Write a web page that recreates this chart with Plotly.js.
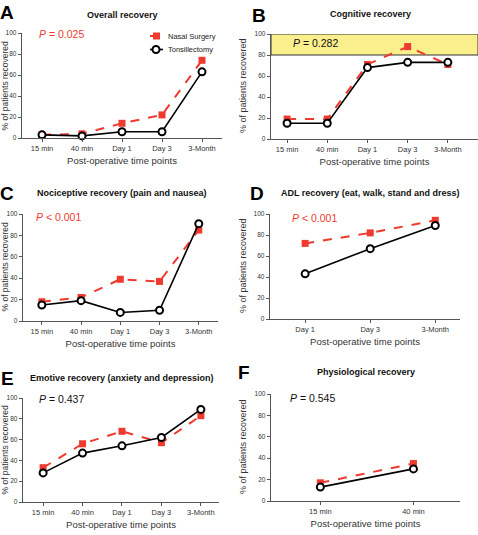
<!DOCTYPE html>
<html><head><meta charset="utf-8">
<script src="https://cdn.plot.ly/plotly-3.0.1.min.js"></script>
<style>html,body{margin:0;padding:0;background:#fff}#chart{width:478px;height:535px}</style>
</head><body><div id="chart"></div>
<script>
// ---- data ----
const timepoints5 = ['15 min', '40 min', 'Day 1', 'Day 3', '3-Month'];
const timepointsADL = ['Day 1', 'Day 3', '3-Month'];
const timepointsPhys = ['15 min', '40 min'];
const seriesNames = ['Nasal Surgery', 'Tonsillectomy'];
const panelTitles = ['Overall recovery', 'Cognitive recovery', 'Nociceptive recovery (pain and nausea)',
  'ADL recovery (eat, walk, stand and dress)', 'Emotive recovery (anxiety and depression)', 'Physiological recovery'];
const panelLetters = ['A', 'B', 'C', 'D', 'E', 'F'];
const pValues = ['<i>P</i> = 0.025', '<i>P</i> = 0.282', '<i>P</i> < 0.001', '<i>P</i> < 0.001', '<i>P</i> = 0.437', '<i>P</i> = 0.545'];
const yTicks = [0, 20, 40, 60, 80, 100];
const xTitle = 'Post-operative time points';
const yTitle = '% of patients recovered';

const overallNasal = [3, 4, 14, 22, 74];
const overallTonsil = [3, 2, 6, 6, 63];
const cognitiveNasal = [19, 19, 71, 88, 71];
const cognitiveTonsil = [15, 15, 68, 73, 73];
const nociNasal = [18, 22, 39, 37, 85];
const nociTonsil = [15, 19, 8, 10, 91];
const adlNasal = [72, 82, 94];
const adlTonsil = [43, 67, 89];
const emotiveNasal = [33, 56, 68, 57, 83];
const emotiveTonsil = [28, 47, 54, 62, 89];
const physioNasal = [17, 35];
const physioTonsil = [13, 30];
const cognitiveBand = [80, 100];

// ---- layout helpers (pixel geometry) ----
const W = 478, H = 535;
const FONT = 'Liberation Sans, Arial, Helvetica, sans-serif';
const RED = '#ee3a2f';
const px = v => v / W;
const py = v => (H - v) / H;

const panels = [
  {cats: timepoints5, nasal: overallNasal, tonsil: overallTonsil, xd: [22, 222], yd: [138, 33], xr: [-0.5, 4.5],
   title: [123, 15], letter: [7, 13], p: [37, 34], pColor: RED, yt: [4.5, 86], ytSize: 8.5},
  {cats: timepoints5, nasal: cognitiveNasal, tonsil: cognitiveTonsil, xd: [271, 478], yd: [139, 34], xr: [-0.4, 4.75],
   title: [370, 14], letter: [259, 15], p: [291, 43], pColor: '#111', yt: [243, 86], ytSize: 9},
  {cats: timepoints5, nasal: nociNasal, tonsil: nociTonsil, xd: [23, 218], yd: [321, 214], xr: [-0.48, 4.49],
   title: [122, 193], letter: [7, 193], p: [34, 217], pColor: RED, yt: [4.5, 267], ytSize: 8.5},
  {cats: timepointsADL, nasal: adlNasal, tonsil: adlTonsil, xd: [270, 460], yd: [319, 214], xr: [-0.54, 2.38],
   title: [370, 193], letter: [257, 193], p: [290, 218], pColor: RED, yt: [243, 266], ytSize: 9},
  {cats: timepoints5, nasal: emotiveNasal, tonsil: emotiveTonsil, xd: [23, 219], yd: [502, 398], xr: [-0.51, 4.46],
   title: [122, 378], letter: [7, 378], p: [37, 399], pColor: '#111', yt: [4.5, 450], ytSize: 8.5},
  {cats: timepointsPhys, nasal: physioNasal, tonsil: physioTonsil, xd: [271, 460], yd: [501, 394], xr: [-0.53, 1.5],
   title: [366, 372], letter: [244, 372], p: [288, 398], pColor: '#111', yt: [243, 447], ytSize: 9}
];

const data = [];
const layout = {
  width: W, height: H, margin: {l: 0, r: 0, t: 0, b: 0},
  paper_bgcolor: '#fff', plot_bgcolor: 'rgba(0,0,0,0)',
  font: {family: FONT, color: '#222'},
  showlegend: false,
  annotations: [], shapes: []
};

panels.forEach((p, i) => {
  const k = i === 0 ? '' : String(i + 1);
  const xa = 'x' + k, ya = 'y' + k;
  data.push({
    x: p.cats, y: p.nasal, xaxis: xa, yaxis: ya, type: 'scatter', mode: 'lines+markers',
    name: seriesNames[0], cliponaxis: false,
    line: {color: RED, width: 2, dash: 'dash'},
    marker: {symbol: 'square', size: 7, color: RED}
  });
  data.push({
    x: p.cats, y: p.tonsil, xaxis: xa, yaxis: ya, type: 'scatter', mode: 'lines+markers',
    name: seriesNames[1], cliponaxis: false,
    line: {color: '#000', width: 1.6},
    marker: {symbol: 'circle', size: 7, color: '#fff', line: {color: '#000', width: 2}}
  });
  layout['xaxis' + k] = {
    domain: [px(p.xd[0]), px(p.xd[1])], anchor: ya, type: 'category', range: p.xr,
    showline: true, linecolor: '#555', linewidth: 1.3, ticks: 'outside', ticklen: 3, tickcolor: '#555',
    showgrid: false, zeroline: false, fixedrange: true,
    tickfont: {size: 7.5, color: '#333', family: FONT},
    title: {text: xTitle, font: {size: 9.5, color: '#333', family: FONT}, standoff: 5}
  };
  layout['yaxis' + k] = {
    domain: [py(p.yd[0]), py(p.yd[1])], anchor: xa, range: [0, 100],
    tickvals: yTicks, showline: true, linecolor: '#555', linewidth: 1.3, ticks: 'outside', ticklen: 3,
    tickcolor: '#555', showgrid: false, zeroline: false, fixedrange: true,
    tickfont: {size: 6.5, color: '#333', family: FONT}
  };
  layout.annotations.push(
    {text: '<b>' + panelTitles[i] + '</b>', xref: 'paper', yref: 'paper', x: px(p.title[0]), y: py(p.title[1]),
     xanchor: 'center', yanchor: 'middle', showarrow: false, font: {size: 9, color: '#111', family: FONT}},
    {text: '<b>' + panelLetters[i] + '</b>', xref: 'paper', yref: 'paper', x: px(p.letter[0]), y: py(p.letter[1]),
     xanchor: 'center', yanchor: 'middle', showarrow: false, font: {size: 19, color: '#000', family: FONT}},
    {text: pValues[i], xref: 'paper', yref: 'paper', x: px(p.p[0]), y: py(p.p[1]),
     xanchor: 'left', yanchor: 'middle', showarrow: false, font: {size: 10.5, color: p.pColor, family: FONT}},
    {text: yTitle, xref: 'paper', yref: 'paper', x: px(p.yt[0]), y: py(p.yt[1]), textangle: -90,
     xanchor: 'center', yanchor: 'middle', showarrow: false, font: {size: p.ytSize, color: '#333', family: FONT}}
  );
});

// yellow significance band in panel B
layout.shapes.push({
  type: 'rect', xref: 'x2 domain', yref: 'y2', x0: 0, x1: 1, y0: cognitiveBand[0], y1: cognitiveBand[1],
  fillcolor: '#f9ef8c', line: {color: '#333', width: 1}, layer: 'below'
});

// compact legend (panel A), built as in the original figure
const legendRows = [
  {name: seriesNames[0], y: 36, color: RED, dash: 'dash', width: 2, symbol: 'rect'},
  {name: seriesNames[1], y: 49.5, color: '#000', dash: 'solid', width: 1.6, symbol: 'circle'}
];
legendRows.forEach(r => {
  layout.shapes.push({type: 'line', xref: 'paper', yref: 'paper', x0: px(150), x1: px(163), y0: py(r.y), y1: py(r.y),
    line: {color: r.color, width: r.width, dash: r.dash}});
  if (r.symbol === 'rect') {
    layout.shapes.push({type: 'rect', xref: 'paper', yref: 'paper', x0: px(153), x1: px(160), y0: py(r.y + 3.5), y1: py(r.y - 3.5),
      fillcolor: RED, line: {width: 0}});
  } else {
    layout.shapes.push({type: 'circle', xref: 'paper', yref: 'paper', x0: px(152.5), x1: px(159.5), y0: py(r.y + 3.5), y1: py(r.y - 3.5),
      fillcolor: '#fff', line: {color: '#000', width: 2}});
  }
  layout.annotations.push({text: r.name, xref: 'paper', yref: 'paper', x: px(166), y: py(r.y), xanchor: 'left', yanchor: 'middle',
    showarrow: false, font: {size: 7.5, color: '#222', family: FONT}});
});

Plotly.newPlot('chart', data, layout, {displayModeBar: false, staticPlot: true});
</script>
</body></html>
